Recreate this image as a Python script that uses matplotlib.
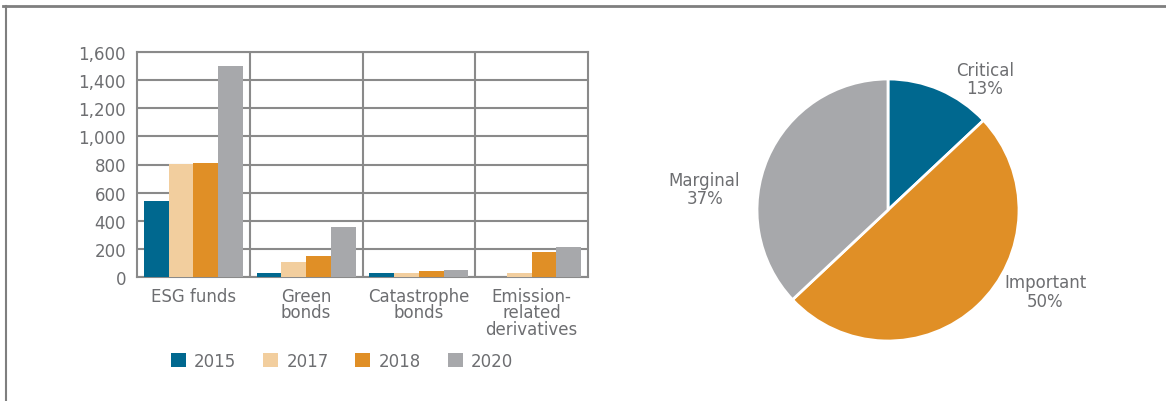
import numpy as np
import matplotlib
matplotlib.use('Agg')
import matplotlib.pyplot as plt
from matplotlib.lines import Line2D
from matplotlib.ticker import FuncFormatter

# Data
categories = ['ESG funds', 'Green\nbonds', 'Catastrophe\nbonds', 'Emission-\nrelated\nderivatives']
years = ['2015', '2017', '2018', '2020']
v2015 = [540, 30, 30, 3]
v2017 = [805, 110, 30, 30]
v2018 = [810, 150, 45, 175]
v2020 = [1500, 355, 50, 215]

pie_labels = ['Critical', 'Important', 'Marginal']
pie_shares = [13, 50, 37]

# Style
colors = ['#00688F', '#F2CE9E', '#E08F26', '#A7A8AB']
pie_colors = ['#00688F', '#E08F26', '#A7A8AB']
text_color = '#6D6E71'
grid_color = '#8A8A8A'
plt.rcParams['font.family'] = 'DejaVu Sans'
plt.rcParams['font.size'] = 12

W, H = 1166, 402
fig = plt.figure(figsize=(W / 100, H / 100), dpi=100)

# --- Bar chart ---
ax = fig.add_axes([137 / W, 1 - 278 / H, (588 - 137) / W, (278 - 53) / H])
x = np.arange(len(categories))
bw = 0.22
series = [v2015, v2017, v2018, v2020]
for i, (vals, c, yr) in enumerate(zip(series, colors, years)):
    ax.bar(x + (i - 1.5) * bw, vals, bw, color=c, label=yr, zorder=3)

ax.set_xlim(-0.5, len(categories) - 0.5)
ax.set_ylim(0, 1600)
ax.set_yticks(np.arange(0, 1601, 200))
ax.yaxis.set_major_formatter(FuncFormatter(lambda v, p: f'{int(v):,}'))
ax.set_xticks(x)
ax.set_xticklabels(categories, linespacing=0.9)
ax.tick_params(axis='both', length=0, colors=text_color, labelsize=12)
ax.tick_params(axis='y', pad=8)
ax.tick_params(axis='x', pad=7)
ax.grid(axis='y', color=grid_color, linewidth=1.5, zorder=1)
for b in x[:-1] + 0.5:
    ax.axvline(b, color=grid_color, linewidth=1.5, zorder=1)
for s in ax.spines.values():
    s.set_color(grid_color)
    s.set_linewidth(1.5)

fig.legend(loc='center', bbox_to_anchor=(342 / W, 1 - 362 / H), ncol=4, frameon=False,
           handlelength=0.9, handleheight=0.9, handletextpad=0.5, columnspacing=1.6,
           labelcolor=text_color, fontsize=12)

# --- Pie chart ---
r = 131
cx, cy = 888, 211
ax2 = fig.add_axes([(cx - r) / W, 1 - (cy + r) / H, 2 * r / W, 2 * r / H])
ax2.pie(pie_shares, colors=pie_colors, startangle=90, counterclock=False,
        wedgeprops=dict(edgecolor='white', linewidth=2))
ax2.set_xlim(-1, 1)
ax2.set_ylim(-1, 1)
ax2.set_aspect('auto')
ax2.axis('off')
label_pos = [(0.74, 1.0), (1.20, -0.62), (-1.40, 0.16)]
for lab, share, (lx, ly) in zip(pie_labels, pie_shares, label_pos):
    ax2.text(lx, ly, f'{lab}\n{share}%', ha='center', va='center', color=text_color,
             fontsize=12, linespacing=1.05)

# Frame lines (top and left)
fig.add_artist(Line2D([3 / W, 1], [1 - 7 / H, 1 - 7 / H], transform=fig.transFigure,
                      color='#7F7F7F', linewidth=2))
fig.add_artist(Line2D([6 / W, 6 / W], [0, 1 - 7 / H], transform=fig.transFigure,
                      color='#7F7F7F', linewidth=1.5))

fig.savefig('out.png', dpi=100)
